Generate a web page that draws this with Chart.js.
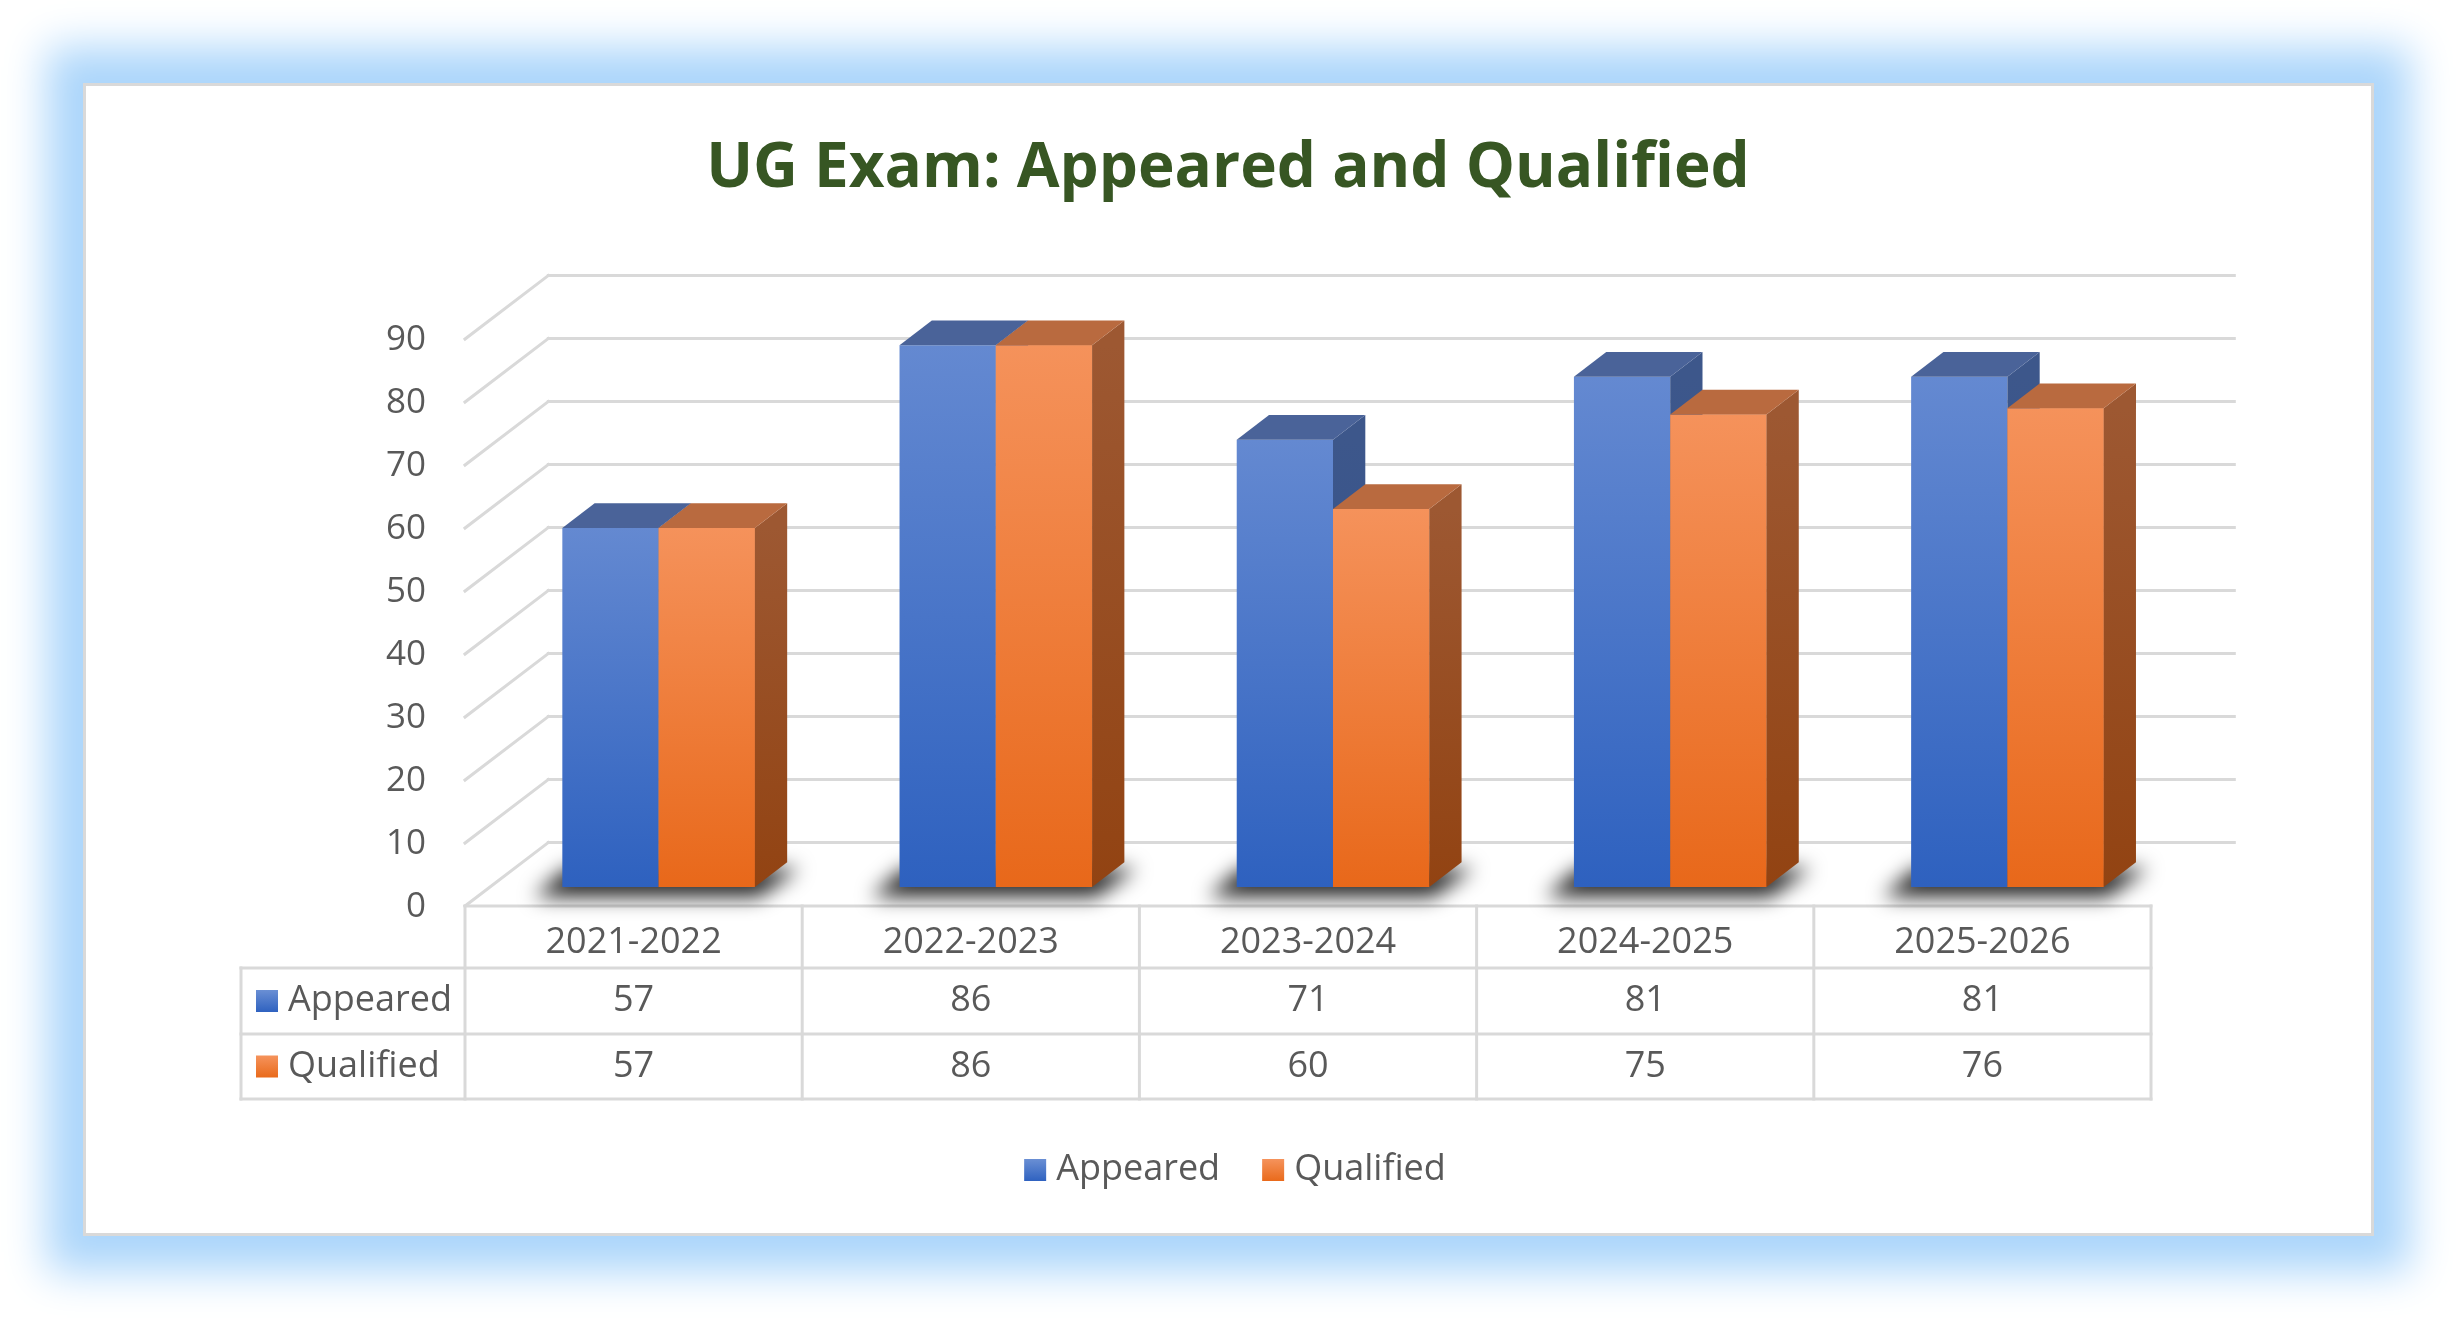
<!DOCTYPE html>
<html>
<head>
<meta charset="utf-8">
<script src="https://cdn.jsdelivr.net/npm/chart.js@4.4.1/dist/chart.umd.min.js"></script>
<style>
html, body { margin: 0; padding: 0; background: #fff; }
body { width: 2456px; height: 1319px; position: relative; overflow: hidden; }
#panel {
    position: absolute; left: 83px; top: 83px; width: 2291px; height: 1153px;
    box-sizing: border-box; background: #fff; border: 3px solid #d9d9d9;
    box-shadow: 0 0 40px 36px #acd6fb;
}
#chart { position: absolute; left: 0; top: 0; }
</style>
</head>
<body>
<div id="panel"></div>
<canvas id="chart" width="2456" height="1319"></canvas>
<script>
// chart data
var categories = ['2021-2022', '2022-2023', '2023-2024', '2024-2025', '2025-2026'];
var seriesNames = ['Appeared', 'Qualified'];
var appeared = [57, 86, 71, 81, 81];
var qualified = [57, 86, 60, 75, 76];
var yTicks = [0, 10, 20, 30, 40, 50, 60, 70, 80, 90];

var chartTitle = 'UG Exam: Appeared and Qualified';
var FONT = '"Open Sans", "Noto Sans", sans-serif';
var TEXT = '#595959';
var GRID = '#d9d9d9';

// 3d look: floor depth, where the bars stand on it, depth of a bar
var FLOOR = { dx: 83.3, dy: -63.5 };
var PLANE = 0.3;
var BAR_DEPTH = { dx: 32.3, dy: -24.7 };

var colors = [
    { top: '#6489d1', bottom: '#2e61bf', sideTop: '#3d578b', sideBottom: '#2f4f8c', cap: '#4a6399', key: ['#6a8fd4', '#2f62c0'] },
    { top: '#f5925b', bottom: '#e8681a', sideTop: '#9d5832', sideBottom: '#924312', cap: '#b96a3f', key: ['#f5935c', '#e96a1b'] }
];

function frontFill(c) {
    return function(context) {
        var chart = context.chart;
        if (!chart.chartArea || context.raw === undefined) return c.bottom;
        var y = chart.scales.y;
        var g = chart.ctx.createLinearGradient(0, y.getPixelForValue(context.raw), 0, y.getPixelForValue(0));
        g.addColorStop(0, c.top);
        g.addColorStop(1, c.bottom);
        return g;
    };
}

function drawBox(ctx, el, c) {
    var x0 = el.x - el.width / 2, x1 = el.x + el.width / 2;
    var top = el.y, base = el.base;
    var dx = BAR_DEPTH.dx, dy = BAR_DEPTH.dy;

    // right side
    var g = ctx.createLinearGradient(0, top, 0, base);
    g.addColorStop(0, c.sideTop);
    g.addColorStop(1, c.sideBottom);
    ctx.fillStyle = g;
    ctx.beginPath();
    ctx.moveTo(x1, top);
    ctx.lineTo(x1 + dx, top + dy);
    ctx.lineTo(x1 + dx, base + dy);
    ctx.lineTo(x1, base);
    ctx.closePath();
    ctx.fill();

    // top
    ctx.fillStyle = c.cap;
    ctx.beginPath();
    ctx.moveTo(x0, top);
    ctx.lineTo(x1, top);
    ctx.lineTo(x1 + dx, top + dy);
    ctx.lineTo(x0 + dx, top + dy);
    ctx.closePath();
    ctx.fill();
}

function keySquare(ctx, x, y, size, c) {
    var g = ctx.createLinearGradient(0, y, 0, y + size);
    g.addColorStop(0, c.key[0]);
    g.addColorStop(1, c.key[1]);
    ctx.fillStyle = g;
    ctx.fillRect(x, y, size, size);
}

function line(ctx, x1, y1, x2, y2) {
    ctx.beginPath();
    ctx.moveTo(x1, y1);
    ctx.lineTo(x2, y2);
    ctx.stroke();
}

var decorPlugin = {
    id: 'decor',
    beforeDatasetsDraw: function(chart) {
        var ctx = chart.ctx;
        var xs = chart.scales.x, ys = chart.scales.y;
        var fdx = -FLOOR.dx * PLANE, fdy = -FLOOR.dy * PLANE;
        var bdy = FLOOR.dy * (1 - PLANE);
        var colW = xs.getPixelForValue(1) - xs.getPixelForValue(0);
        var left = xs.getPixelForValue(0) - colW / 2 + fdx;
        var right = xs.getPixelForValue(categories.length - 1) + colW / 2 + fdx;

        ctx.save();
        ctx.strokeStyle = GRID;
        ctx.lineWidth = 3;
        ctx.lineCap = 'square';

        // back wall and side wall
        yTicks.forEach(function(v) {
            var y = ys.getPixelForValue(v);
            line(ctx, left, y + fdy, left + FLOOR.dx, y + bdy);
            line(ctx, left + FLOOR.dx, y + bdy, right + FLOOR.dx, y + bdy);
        });

        // y labels at the front edge
        ctx.fillStyle = TEXT;
        ctx.font = '35px ' + FONT;
        ctx.textAlign = 'right';
        ctx.textBaseline = 'middle';
        yTicks.forEach(function(v) {
            ctx.fillText(String(v), 426, ys.getPixelForValue(v) + fdy + 1);
        });

        // data table
        var rows = [ys.getPixelForValue(0) + fdy, 968, 1034, 1099];
        var keyLeft = 241;
        line(ctx, left, rows[0], right, rows[0]);
        line(ctx, keyLeft, rows[1], right, rows[1]);
        line(ctx, keyLeft, rows[2], right, rows[2]);
        line(ctx, keyLeft, rows[3], right, rows[3]);
        line(ctx, keyLeft, rows[1], keyLeft, rows[3]);
        for (var i = 0; i <= categories.length; i++) {
            var cx = left + i * colW;
            line(ctx, cx, rows[0], cx, rows[3]);
        }

        ctx.textAlign = 'center';
        ctx.font = '36px ' + FONT;
        var values = [appeared, qualified];
        categories.forEach(function(cat, i) {
            var cx = xs.getPixelForValue(i) + fdx;
            ctx.fillStyle = TEXT;
            ctx.fillText(cat, cx, (rows[0] + rows[1]) / 2 + 6);
            values.forEach(function(arr, r) {
                ctx.fillText(String(arr[i]), cx, (rows[r + 1] + rows[r + 2]) / 2);
            });
        });
        ctx.textAlign = 'left';
        seriesNames.forEach(function(name, r) {
            var cy = (rows[r + 1] + rows[r + 2]) / 2;
            keySquare(ctx, 256, cy - 11, 22, colors[r]);
            ctx.fillStyle = TEXT;
            ctx.fillText(name, 288, cy);
        });

        // legend
        ctx.font = '36px ' + FONT;
        var w0 = ctx.measureText(seriesNames[0]).width;
        var w1 = ctx.measureText(seriesNames[1]).width;
        var total = 22 + 10 + w0 + 42 + 22 + 10 + w1;
        var lx = 1235 - total / 2, ly = 1170;
        keySquare(ctx, lx, ly - 11, 22, colors[0]);
        ctx.fillStyle = TEXT;
        ctx.fillText(seriesNames[0], lx + 32, ly);
        lx += 32 + w0 + 42;
        keySquare(ctx, lx, ly - 11, 22, colors[1]);
        ctx.fillStyle = TEXT;
        ctx.fillText(seriesNames[1], lx + 32, ly);

        // title
        ctx.fillStyle = '#375623';
        ctx.font = 'bold 62px ' + FONT;
        ctx.textAlign = 'center';
        ctx.textBaseline = 'alphabetic';
        ctx.fillText(chartTitle, 1228, 187);

        // soft shadow under each pair of bars
        var m0 = chart.getDatasetMeta(0).data, m1 = chart.getDatasetMeta(1).data;
        ctx.filter = 'blur(10px)';
        ctx.fillStyle = 'rgba(0,0,0,0.85)';
        for (var k = 0; k < m0.length; k++) {
            var L = m0[k].x - m0[k].width / 2, R = m1[k].x + m1[k].width / 2, B = m0[k].base;
            ctx.beginPath();
            ctx.moveTo(L - 28, B + 10);
            ctx.lineTo(R + 4, B + 10);
            ctx.lineTo(R + BAR_DEPTH.dx + 12, B + BAR_DEPTH.dy + 6);
            ctx.lineTo(L + BAR_DEPTH.dx - 28, B + BAR_DEPTH.dy + 6);
            ctx.closePath();
            ctx.fill();
        }
        ctx.filter = 'none';
        ctx.restore();
    },
    afterDatasetsDraw: function(chart) {
        // sides and tops, pair by pair; the qualified front is drawn again
        // so it hides the part of the appeared side behind it
        var ctx = chart.ctx;
        var m0 = chart.getDatasetMeta(0).data, m1 = chart.getDatasetMeta(1).data;
        ctx.save();
        for (var k = 0; k < m0.length; k++) {
            drawBox(ctx, m0[k].getProps(['x', 'y', 'base', 'width'], true), colors[0]);
            m1[k].draw(ctx);
            drawBox(ctx, m1[k].getProps(['x', 'y', 'base', 'width'], true), colors[1]);
        }
        ctx.restore();
    }
};

function makeChart() {
    var ctx = document.getElementById('chart').getContext('2d');
    new Chart(ctx, {
        type: 'bar',
        data: {
            labels: categories,
            datasets: [{
                label: seriesNames[0],
                data: appeared,
                backgroundColor: frontFill(colors[0]),
                borderWidth: 0
            }, {
                label: seriesNames[1],
                data: qualified,
                backgroundColor: frontFill(colors[1]),
                borderWidth: 0
            }]
        },
        options: {
            responsive: false,
            devicePixelRatio: 1,
            animation: false,
            layout: { padding: { left: 490, right: 280, top: 320, bottom: 432 } },
            datasets: { bar: { categoryPercentage: 0.571, barPercentage: 1.0 } },
            scales: {
                x: { display: false },
                y: { display: false, min: 0, max: 90 }
            },
            plugins: {
                legend: { display: false },
                title: { display: false },
                tooltip: { enabled: false }
            }
        },
        plugins: [decorPlugin]
    });
}

if (document.fonts && document.fonts.load) {
    Promise.all([
        document.fonts.load('36px "Open Sans"'),
        document.fonts.load('bold 62px "Open Sans"')
    ]).then(makeChart, makeChart);
} else {
    makeChart();
}
</script>
</body>
</html>
